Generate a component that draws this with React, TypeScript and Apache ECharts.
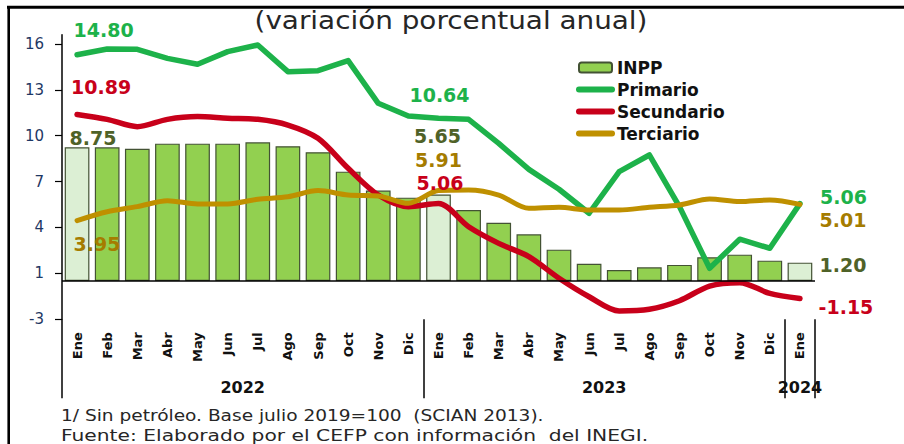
import React, { useEffect, useRef } from 'react';
import * as echarts from 'echarts';

// ---- data ----
const months = ['Ene', 'Feb', 'Mar', 'Abr', 'May', 'Jun', 'Jul', 'Ago', 'Sep', 'Oct', 'Nov', 'Dic',
  'Ene', 'Feb', 'Mar', 'Abr', 'May', 'Jun', 'Jul', 'Ago', 'Sep', 'Oct', 'Nov', 'Dic', 'Ene'];
const years = ['2022', '2023', '2024'];
const yearBounds = [0, 12, 24, 25];
const inpp = [8.75, 8.74, 8.65, 8.98, 8.98, 8.98, 9.07, 8.81, 8.42, 7.15, 5.91, 5.45,
  5.65, 4.64, 3.81, 3.05, 2.05, 1.13, 0.72, 0.89, 1.05, 1.55, 1.72, 1.33, 1.20];
const primario = [14.80, 15.17, 15.15, 14.56, 14.17, 15.0, 15.43, 13.69, 13.75, 14.41, 11.62, 10.79,
  10.64, 10.57, 9.0, 7.3, 6.0, 4.43, 7.15, 8.24, 4.86, 0.83, 2.73, 2.14, 5.06];
const secundario = [10.89, 10.57, 10.09, 10.57, 10.75, 10.64, 10.57, 10.2, 9.33, 7.37, 5.62, 4.86,
  5.06, 3.55, 2.46, 1.59, 0.18, -1.03, -1.96, -1.85, -1.29, -0.33, -0.11, -0.81, -1.15];
const terciario = [3.95, 4.53, 4.86, 5.25, 5.04, 5.04, 5.34, 5.51, 5.91, 5.62, 5.56, 5.08,
  5.91, 5.95, 5.62, 4.75, 4.82, 4.64, 4.64, 4.82, 4.97, 5.36, 5.19, 5.3, 5.01];
const highlighted = [0, 12, 24];
const yTicks = [-2.5, 0.5, 3.5, 6.5, 9.5, 12.5, 15.5];
const yTickLabels = ['-3', '1', '4', '7', '10', '13', '16'];
const titleText = '(variación porcentual anual)';
const footer1 = '1/ Sin petróleo. Base julio 2019=100  (SCIAN 2013).';
const footer2 = 'Fuente: Elaborado por el CEFP con información  del INEGI.';

// ---- styles ----
const GREEN = '#1db24a';
const RED = '#c8001a';
const GOLD = '#bf9000';
const GOLD_TXT = '#a57c00';
const OLIVE = '#4f6228';
const BAR = '#92d050';
const BAR_LIGHT = '#dcefd4';
const FONT = 'DejaVu Sans';

const labelBase = { show: true, position: 'inside', fontFamily: FONT, fontWeight: 'bold', fontSize: 19, lineHeight: 18 };

function lineData(values: number[], color: string, offsets: Record<number, [number, number]>) {
  return values.map((v, i) => offsets[i]
    ? { value: v, label: { ...labelBase, color, offset: offsets[i], formatter: (p: any) => Number(p.value).toFixed(2) } }
    : v);
}

const barOffsets: Record<number, [number, number]> = { 0: [16, 2], 12: [-1, -48], 24: [43, 13] };

export default function App() {
  const ref = useRef<HTMLDivElement>(null);
  useEffect(() => {
    const chart = echarts.init(ref.current!, null, { renderer: 'svg' });
    const barData = inpp.map((v, i) => {
      const item: any = {
        value: v,
        itemStyle: { color: highlighted.includes(i) ? BAR_LIGHT : BAR },
      };
      if (barOffsets[i]) {
        item.label = {
          show: true, position: 'top', distance: 2, offset: barOffsets[i], color: OLIVE,
          fontFamily: FONT, fontWeight: 'bold', fontSize: 19, lineHeight: 18,
          formatter: (p: any) => Number(p.value).toFixed(2),
        };
      }
      return item;
    });
    const lineCommon = {
      type: 'line', symbol: 'circle', symbolSize: 2, showSymbol: true,
      itemStyle: { color: 'transparent', borderWidth: 0 },
      emphasis: { disabled: true }, z: 3,
    };
    const option: any = {
      animation: false,
      backgroundColor: '#fff',
      grid: { left: 62, right: 89, top: 34.8, bottom: 124.8, containLabel: false },
      legend: {
        orient: 'vertical', left: 571, top: 54, itemWidth: 33, itemHeight: 10, itemGap: 5,
        textStyle: { fontFamily: FONT, fontWeight: 'bold', fontSize: 17, color: '#111' },
        lineStyle: { width: 6, cap: 'round' },
        data: ['INPP', 'Primario', 'Secundario', 'Terciario'],
      },
      xAxis: [
        {
          type: 'category', data: months, position: 'bottom',
          axisLine: { show: false }, axisTick: { show: false },
          axisLabel: { interval: 0, rotate: 90, margin: 13, fontFamily: FONT, fontWeight: 'bold', fontSize: 13, color: '#111' },
        },
        {
          type: 'value', min: yearBounds[0], max: yearBounds[yearBounds.length - 1], position: 'bottom',
          axisLine: { show: false }, splitLine: { show: false },
          axisTick: { show: true, customValues: yearBounds, length: 79, lineStyle: { color: '#000', width: 1.5 } },
          axisLabel: {
            customValues: years.map((_, i) => (yearBounds[i] + yearBounds[i + 1]) / 2),
            formatter: (v: number) => {
              const i = years.findIndex((_, k) => Math.abs((yearBounds[k] + yearBounds[k + 1]) / 2 - v) < 1e-6);
              return i >= 0 ? years[i] : '';
            },
            margin: 60, fontFamily: FONT, fontWeight: 'bold', fontSize: 16, color: '#111',
          },
        },
      ],
      yAxis: {
        type: 'value', min: -2.5, max: 16.1,
        axisLine: { show: true, lineStyle: { color: '#000', width: 1.5 } },
        axisTick: { show: true, customValues: yTicks, length: 7, lineStyle: { color: '#000', width: 1.2 } },
        axisLabel: {
          customValues: yTicks,
          formatter: (v: number) => {
            let best = 0;
            yTicks.forEach((t, i) => { if (Math.abs(t - v) < Math.abs(yTicks[best] - v)) best = i; });
            return yTickLabels[best];
          },
          margin: 18, fontFamily: FONT, fontSize: 15, color: '#1f3864',
        },
        splitLine: { show: false },
      },
      series: [
        {
          name: 'INPP', type: 'bar', data: barData, barCategoryGap: '18%',
          itemStyle: { color: BAR, borderColor: '#435234', borderWidth: 1.2 },
          emphasis: { disabled: true }, z: 2,
          markLine: {
            silent: true, symbol: 'none', label: { show: false },
            lineStyle: { color: '#000', width: 1.5, type: 'solid' },
            data: [{ yAxis: 0 }],
          },
        },
        {
          ...lineCommon, name: 'Primario', data: lineData(primario, GREEN, { 0: [26.5, -25], 12: [1, -23], 24: [43.5, -7] }),
          lineStyle: { color: GREEN, width: 5.5, cap: 'round', join: 'round' },
        },
        {
          ...lineCommon, name: 'Secundario', smooth: 0.3, data: lineData(secundario, RED, { 0: [24, -27], 12: [1.5, -21], 24: [46, 8.4] }),
          lineStyle: { color: RED, width: 5.5, cap: 'round', join: 'round' },
        },
        {
          ...lineCommon, name: 'Terciario', smooth: 0.3, data: lineData(terciario, GOLD_TXT, { 0: [20, 23.4], 12: [0, -31], 24: [43, 16] }),
          lineStyle: { color: GOLD, width: 5, cap: 'round', join: 'round' },
        },
      ],
      graphic: [
        { type: 'line', shape: { x1: 7, y1: 7.3, x2: 904, y2: 7.3 }, style: { stroke: '#000', lineWidth: 3 } },
        { type: 'line', shape: { x1: 8.7, y1: 6, x2: 8.7, y2: 444 }, style: { stroke: '#000', lineWidth: 2.6 } },
        {
          type: 'text', x: 451, y: 21, scaleX: 1.16, originX: 0,
          style: { text: titleText, fontFamily: FONT, fontSize: 24, fill: '#262626', textAlign: 'center', textVerticalAlign: 'middle' },
        },
        {
          type: 'text', x: 61, y: 415.5, scaleX: 1.16, originX: 0,
          style: { text: footer1, fontFamily: FONT, fontSize: 16, fill: '#262626', textVerticalAlign: 'middle' },
        },
        {
          type: 'text', x: 61, y: 435, scaleX: 1.265, originX: 0,
          style: { text: footer2, fontFamily: FONT, fontSize: 16, fill: '#262626', textVerticalAlign: 'middle' },
        },
      ],
    };
    chart.setOption(option);
    return () => chart.dispose();
  }, []);
  return <div ref={ref} style={{ position: 'fixed', left: 0, top: 0, width: 904, height: 444, background: '#fff' }} />;
}
